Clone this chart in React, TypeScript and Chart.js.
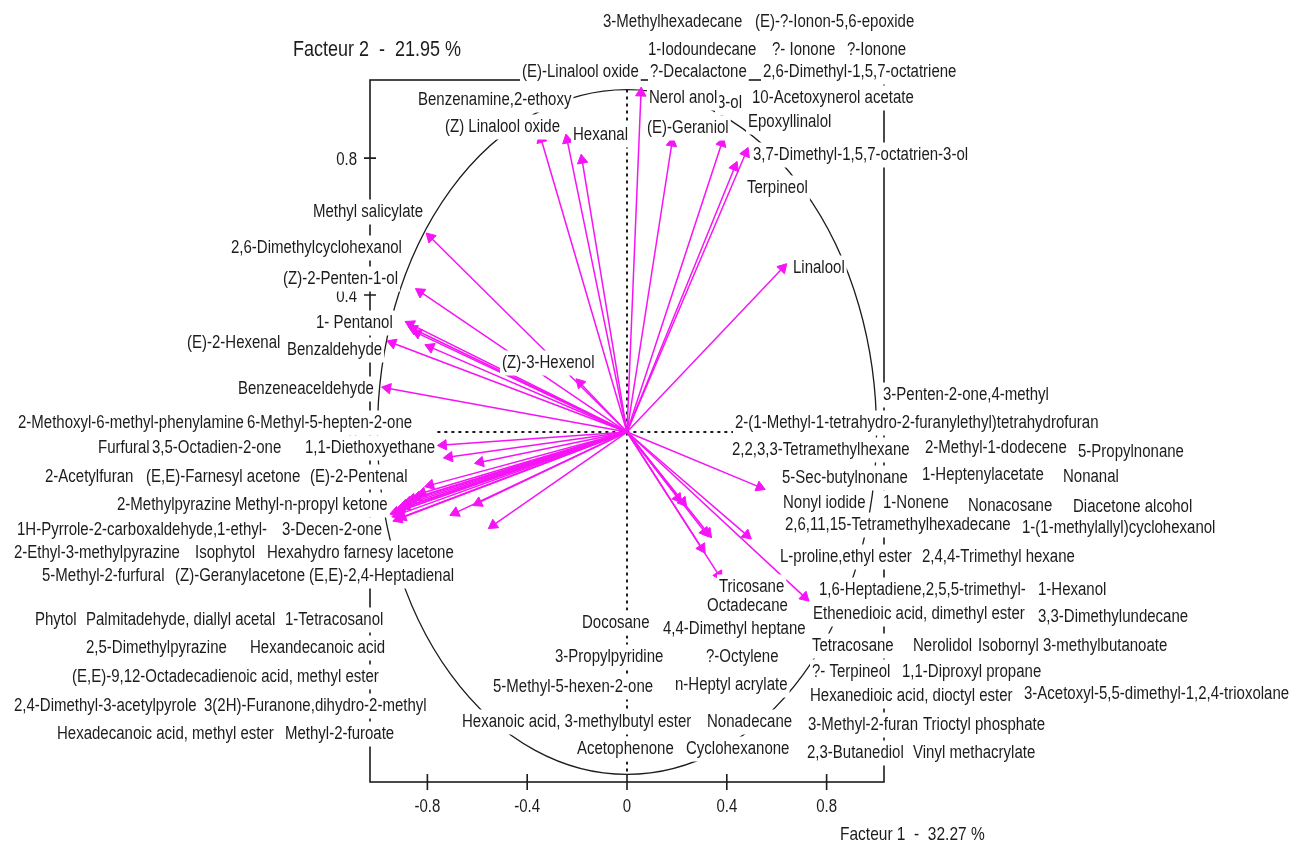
import React, { useEffect, useRef } from "react";
import { Chart, registerables } from "chart.js";

Chart.register(...registerables);

// ---- data: arrow tips (loadings on Facteur 1 / Facteur 2) ----
const arrowX = [
  -0.344, -0.24, -0.18, 0.056, 0.18, 0.38, 0.432, 0.476, 0.624,
  -0.788, -0.828, -0.868, -0.856, -0.84, -0.788, -0.94, -0.96, -0.188,
  -0.736, -0.712, -0.588, -0.788, -0.84, -0.92, -0.912, -0.904, -0.892, -0.876, -0.86, -0.9, -0.688, -0.596, -0.536,
  -0.928, -0.916, -0.884, -0.82,
  0.532, 0.48, 0.204, 0.224, 0.312, 0.324, 0.3, 0.712, 0.368,
];
const arrowY = [
  0.855, 0.853, 0.794, 0.99, 0.844, 0.844, 0.774, 0.815, 0.479,
  0.569, 0.409, 0.315, 0.301, 0.289, 0.248, 0.26, 0.128, 0.143,
  -0.038, -0.073, -0.088, -0.155, -0.19, -0.242, -0.231, -0.222, -0.213, -0.204, -0.196, -0.248, -0.236, -0.207, -0.272,
  -0.234, -0.254, -0.218, -0.178,
  -0.161, -0.301, -0.193, -0.204, -0.292, -0.295, -0.339, -0.482, -0.418,
];

const xTicks = [-0.8, -0.4, 0, 0.4, 0.8];
const yTicks = [-0.8, -0.4, 0, 0.4, 0.8];

const xTitle = "Facteur 1  -  32.27 %";
const yTitle = "Facteur 2  -  21.95 %";

// ---- variable names as printed on the figure ----
const labelNames = [
  "3-Methylhexadecane", "(E)-?-Ionon-5,6-epoxide", "1-Iodoundecane", "?- Ionone", "?-Ionone",
  "(E)-Linalool oxide", "?-Decalactone", "2,6-Dimethyl-1,5,7-octatriene", "3-ol", "Nerol anol",
  "10-Acetoxynerol acetate", "Benzenamine,2-ethoxy", "(Z) Linalool oxide", "Hexanal", "(E)-Geraniol",
  "Epoxyllinalol", "3,7-Dimethyl-1,5,7-octatrien-3-ol", "Terpineol", "Linalool",
  "Methyl salicylate", "2,6-Dimethylcyclohexanol", "(Z)-2-Penten-1-ol", "1- Pentanol", "(E)-2-Hexenal",
  "Benzaldehyde", "(Z)-3-Hexenol", "Benzeneaceldehyde",
  "2-Methoxyl-6-methyl-phenylamine", "6-Methyl-5-hepten-2-one",
  "Furfural", "3,5-Octadien-2-one", "1,1-Diethoxyethane",
  "2-Acetylfuran", "(E,E)-Farnesyl acetone", "(E)-2-Pentenal",
  "2-Methylpyrazine", "Methyl-n-propyl ketone",
  "1H-Pyrrole-2-carboxaldehyde,1-ethyl-", "3-Decen-2-one",
  "2-Ethyl-3-methylpyrazine", "Isophytol", "Hexahydro farnesy lacetone",
  "5-Methyl-2-furfural", "(Z)-Geranylacetone", "(E,E)-2,4-Heptadienal",
  "Phytol", "Palmitadehyde, diallyl acetal", "1-Tetracosanol",
  "2,5-Dimethylpyrazine", "Hexandecanoic acid",
  "(E,E)-9,12-Octadecadienoic acid, methyl ester",
  "2,4-Dimethyl-3-acetylpyrole", "3(2H)-Furanone,dihydro-2-methyl",
  "Hexadecanoic acid, methyl ester", "Methyl-2-furoate",
  "Tricosane", "Octadecane", "Docosane", "4,4-Dimethyl heptane",
  "3-Propylpyridine", "?-Octylene", "5-Methyl-5-hexen-2-one", "n-Heptyl acrylate",
  "Hexanoic acid, 3-methylbutyl ester", "Nonadecane", "Acetophenone", "Cyclohexanone",
  "3-Penten-2-one,4-methyl", "2-(1-Methyl-1-tetrahydro-2-furanylethyl)tetrahydrofuran",
  "2,2,3,3-Tetramethylhexane", "2-Methyl-1-dodecene", "5-Propylnonane",
  "5-Sec-butylnonane", "1-Heptenylacetate", "Nonanal",
  "Nonyl iodide", "1-Nonene", "Nonacosane", "Diacetone alcohol",
  "2,6,11,15-Tetramethylhexadecane", "1-(1-methylallyl)cyclohexanol",
  "L-proline,ethyl ester", "2,4,4-Trimethyl hexane",
  "1,6-Heptadiene,2,5,5-trimethyl-", "1-Hexanol",
  "Ethenedioic acid, dimethyl ester", "3,3-Dimethylundecane",
  "Tetracosane", "Nerolidol", "Isobornyl 3-methylbutanoate",
  "?- Terpineol", "1,1-Diproxyl propane",
  "Hexanedioic acid, dioctyl ester", "3-Acetoxyl-5,5-dimethyl-1,2,4-trioxolane",
  "3-Methyl-2-furan", "Trioctyl phosphate",
  "2,3-Butanediol", "Vinyl methacrylate",
];

// layout of the printed names on the figure: [left, middle] in page pixels
const labelLayout: [number, number][] = [
  [603, 22], [755, 22], [648, 50], [772, 50], [847, 50],
  [522, 72], [650, 72], [763, 72], [717, 103], [649, 98],
  [752, 98], [418, 100], [445, 127], [573, 135], [647, 128],
  [748, 122], [753, 155], [747, 188], [793, 268],
  [313, 212], [231, 248], [283, 279], [316, 323], [187, 343],
  [287, 350], [502, 363], [238, 389],
  [18, 423], [247, 423],
  [98, 448], [152, 448], [305, 448],
  [45, 477], [146, 477], [310, 477],
  [117, 505], [235, 505],
  [17, 530], [282, 530],
  [14, 553], [195, 553], [267, 553],
  [42, 576], [175, 576], [309, 576],
  [35, 620], [86, 620], [285, 620],
  [86, 648], [250, 648],
  [72, 677],
  [14, 706], [204, 706],
  [57, 734], [285, 734],
  [719, 587], [707, 606], [582, 623], [663, 629],
  [555, 657], [706, 657], [493, 687], [675, 685],
  [462, 722], [707, 722], [577, 749], [686, 749],
  [883, 395], [735, 423],
  [732, 450], [925, 448], [1078, 452],
  [782, 478], [922, 475], [1063, 477],
  [783, 503], [883, 503], [968, 506], [1073, 507],
  [785, 525], [1022, 528],
  [780, 557], [922, 557],
  [819, 590], [1038, 590],
  [813, 614], [1038, 617],
  [812, 646], [913, 646], [978, 646],
  [812, 672], [902, 672],
  [810, 696], [1024, 694],
  [808, 725], [923, 725],
  [807, 753], [913, 753],
];

const MAG = "#f514f5";
const INK = "#1c1c1c";
const FONT = '"Liberation Sans", Arial, sans-serif';

function drawText(ctx: CanvasRenderingContext2D, t: string, x: number, y: number, size: number, align: CanvasTextAlign = "left", box = false) {
  ctx.save();
  ctx.font = `${size}px ${FONT}`;
  const w = ctx.measureText(t).width;
  if (box) {
    ctx.fillStyle = "#ffffff";
    const left = align === "left" ? x : align === "right" ? x - w : x - w / 2;
    ctx.fillRect(left - 2, y - 12.5, w + 4, 25);
  }
  ctx.translate(x, y);
  ctx.scale(1, 1.2);
  ctx.fillStyle = INK;
  ctx.textAlign = align;
  ctx.textBaseline = "middle";
  ctx.fillText(t, 0, 0);
  ctx.restore();
}

const decor = {
  id: "decor",
  beforeDatasetsDraw(chart: any) {
    const { ctx } = chart;
    const xs = chart.scales.x;
    const ys = chart.scales.y;
    const px = (v: number) => xs.getPixelForValue(v);
    const py = (v: number) => ys.getPixelForValue(v);
    ctx.save();
    ctx.strokeStyle = INK;
    ctx.lineWidth = 1.6;
    // frame
    const L = px(xs.min), R = px(xs.max), T = py(ys.max), B = py(ys.min);
    ctx.strokeRect(L, T, R - L, B - T);
    // ticks
    ctx.beginPath();
    xTicks.forEach((v) => { ctx.moveTo(px(v), B - 8); ctx.lineTo(px(v), B + 8); });
    yTicks.forEach((v) => { ctx.moveTo(L - 6, py(v)); ctx.lineTo(L + 6, py(v)); });
    ctx.stroke();
    xTicks.forEach((v) => drawText(ctx, v === 0 ? "0" : String(v), px(v), B + 25, 15, "center"));
    yTicks.forEach((v) => drawText(ctx, v === 0 ? "0" : String(v), L - 13, py(v) + 2, 15, "right"));
    // correlation circle
    ctx.lineWidth = 1.3;
    ctx.beginPath();
    ctx.ellipse(px(0), py(0), px(1) - px(0), py(0) - py(1), 0, 0, Math.PI * 2);
    ctx.stroke();
    // dashed axes through origin
    ctx.setLineDash([3, 4]);
    ctx.lineWidth = 2;
    ctx.beginPath();
    ctx.moveTo(px(-0.76), py(0)); ctx.lineTo(px(1), py(0));
    ctx.moveTo(px(0), py(1)); ctx.lineTo(px(0), py(-1));
    ctx.stroke();
    ctx.restore();
  },
  afterDatasetsDraw(chart: any) {
    const { ctx } = chart;
    labelNames.forEach((t, i) => {
      const [lx, ly] = labelLayout[i];
      drawText(ctx, t, lx, ly, 15, "left", true);
    });
    drawText(ctx, yTitle, 293, 50, 18, "left");
    drawText(ctx, xTitle, 840, 835, 15.5, "left");
  },
};

export default function App() {
  const ref = useRef<HTMLCanvasElement | null>(null);
  useEffect(() => {
    if (!ref.current) return;
    const datasets = arrowX.map((ax, i) => {
      const ay = arrowY[i];
      return {
        data: [{ x: 0, y: 0 }, { x: ax, y: ay }],
        showLine: true,
        borderColor: MAG,
        backgroundColor: MAG,
        borderWidth: 1.5,
        pointRadius: (c: any) => (c.dataIndex === 1 ? 6 : 0),
        pointHoverRadius: 0,
        pointBorderWidth: 1,
        pointStyle: "triangle",
        pointRotation: (c: any) => {
          const sx = c.chart.scales.x;
          const sy = c.chart.scales.y;
          const dx = sx.getPixelForValue(ax) - sx.getPixelForValue(0);
          const dy = sy.getPixelForValue(ay) - sy.getPixelForValue(0);
          return (Math.atan2(dx, -dy) * 180) / Math.PI;
        },
        clip: false as any,
      };
    });
    const chart = new Chart(ref.current, {
      type: "scatter",
      data: { datasets: datasets as any },
      options: {
        responsive: false,
        animation: false,
        events: [],
        layout: { padding: { left: 370, right: 414, top: 80, bottom: 66 } },
        plugins: { legend: { display: false }, tooltip: { enabled: false } },
        scales: {
          x: { type: "linear", min: -1.03, max: 1.03, display: false },
          y: { type: "linear", min: -1.022, max: 1.028, display: false },
        },
      },
      plugins: [decor],
    });
    return () => chart.destroy();
  }, []);
  return (
    <div style={{ position: "fixed", left: 0, top: 0, width: 1298, height: 848, background: "#fff" }}>
      <canvas ref={ref} width={1298} height={848} style={{ display: "block" }} />
    </div>
  );
}
